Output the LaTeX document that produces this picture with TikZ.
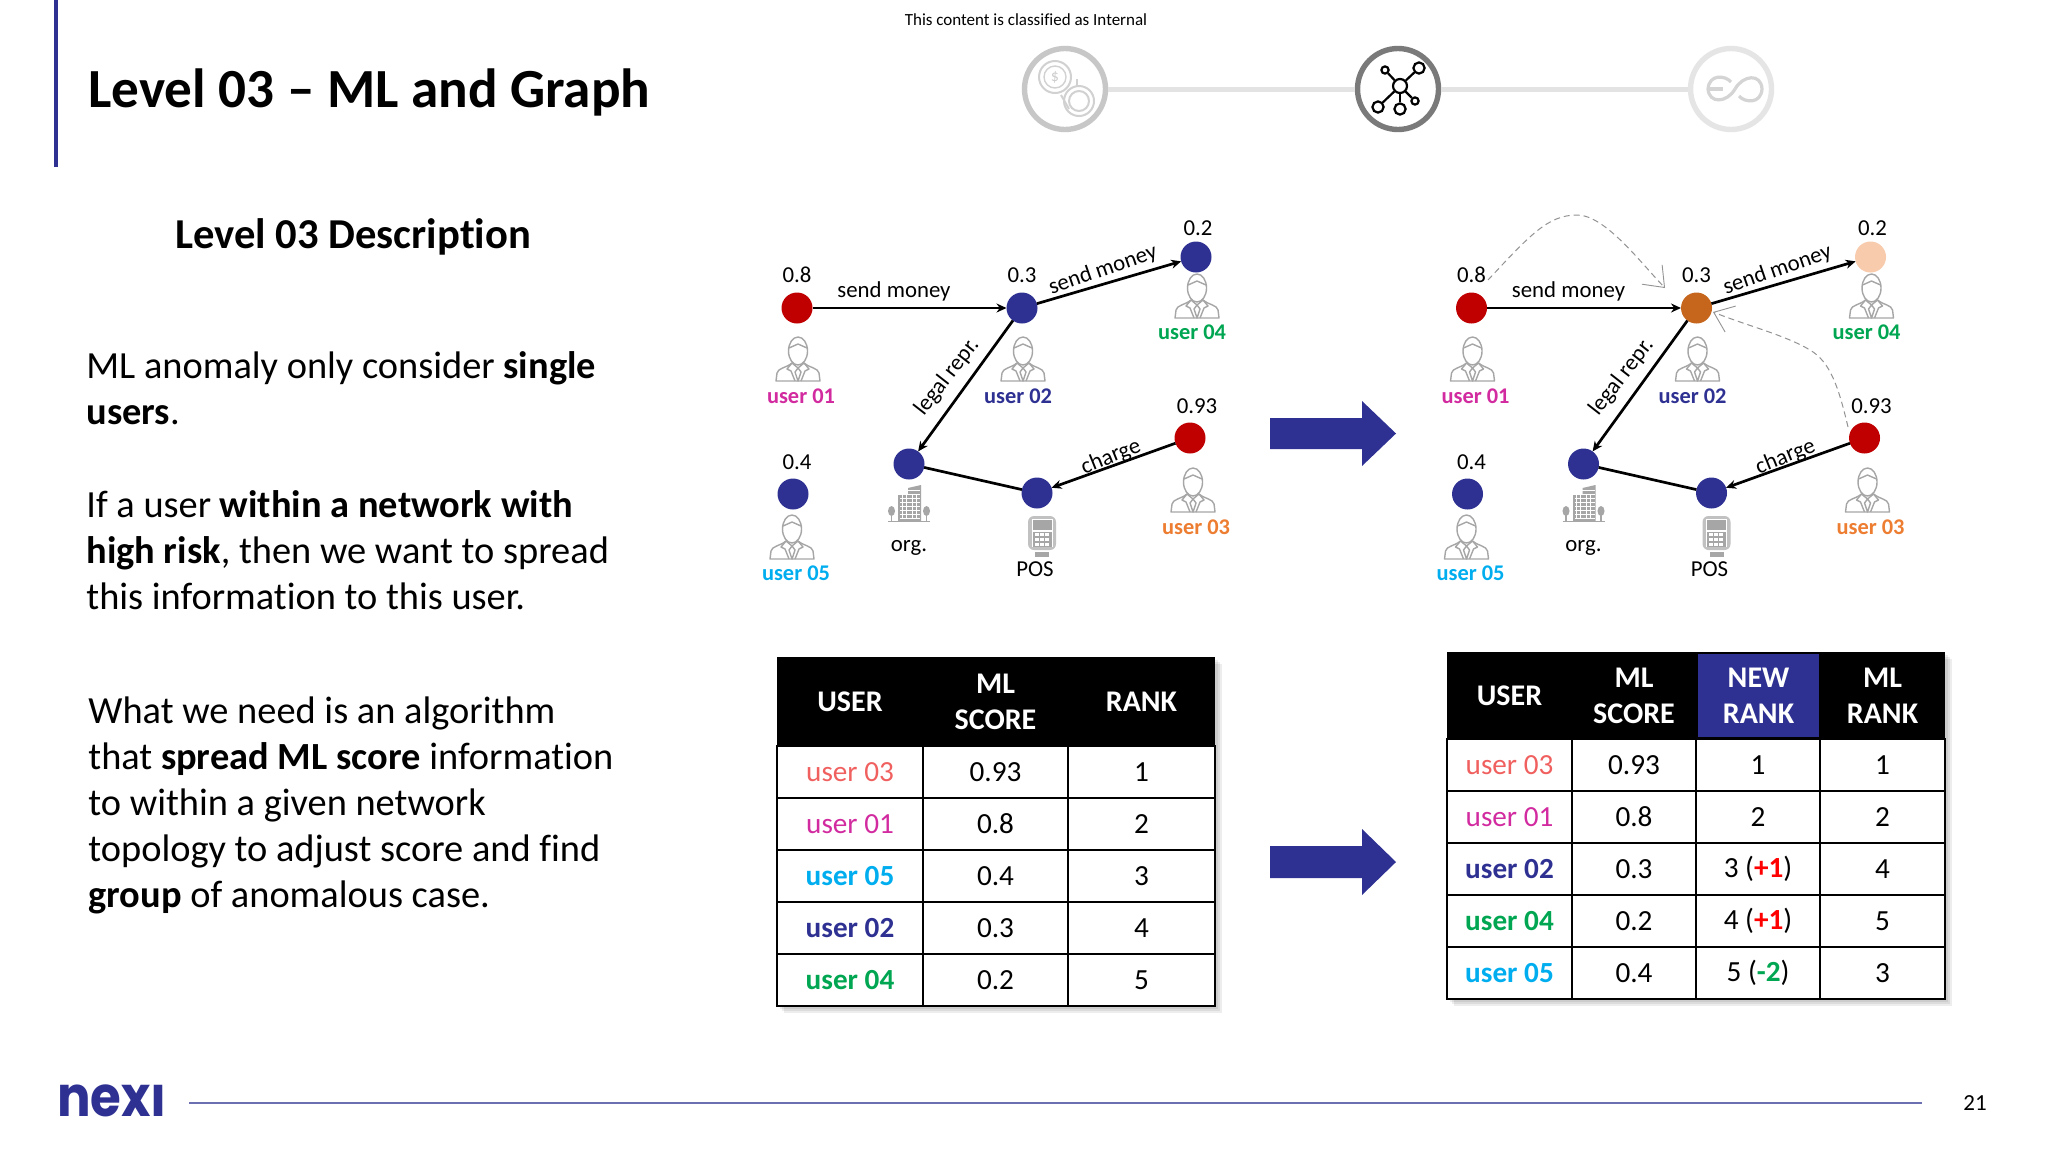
\documentclass[tikz,border=0pt]{standalone}
\usepackage{fontspec}
\setmainfont{Carlito}[Ligatures=NoCommon]
\newfontfamily\logofont{Poppins}
\usetikzlibrary{arrows.meta}
\definecolor{navy}{HTML}{2E3192}
\definecolor{nodered}{HTML}{C00000}
\definecolor{nodeorange}{HTML}{C5661C}
\definecolor{peach}{HTML}{F8CBAD}
\definecolor{umag}{HTML}{D22BA0}
\definecolor{ugreen}{HTML}{00A651}
\definecolor{ucyan}{HTML}{00AEEF}
\definecolor{uorange}{HTML}{ED7D31}
\definecolor{ucoral}{HTML}{F0605F}
\definecolor{icongray}{HTML}{A6A6A6}
\definecolor{plusred}{HTML}{FF0000}
\newcommand\fs[1]{\fontsize{#1}{#1}\selectfont}
\tikzset{
  x=0.5pt,y=-0.5pt,
  gnode/.style={circle,minimum size=15.5pt,inner sep=0pt,outer sep=0pt},
  gedge/.style={line width=1.35pt,-{Stealth[length=5pt,width=4.5pt]},black},
  gplain/.style={line width=1.35pt,black},
  glabel/.style={font=\fs{11.4},inner sep=0pt},
  ulabel/.style={font=\fs{11.2}\bfseries,inner sep=0pt},
  icon/.style={draw=icongray,line width=0.7pt,line join=round},
  dashlink/.style={draw=gray!85,line width=0.5pt,dash pattern=on 3pt off 2pt,-{Straight Barb[length=9pt,width=14pt,line width=0.45pt]}},
  bodyline/.style={anchor=base west,font=\fs{19.2},inner sep=0pt},
  hcell/.style={fill=black,text=white,font=\fontsize{15}{18}\selectfont\bfseries,align=center,inner sep=0pt},
  hcellblue/.style={fill=navy,text=white,font=\fontsize{15}{18}\selectfont\bfseries,align=center,inner sep=0pt},
  bcell/.style={draw=black,line width=0.9pt,fill=white,font=\fs{14.6},inner sep=0pt},
  tshadow/.style={fill=black,opacity=0.07},
  bigarrow/.style={fill=navy},
  stage/.style={circle,fill=white,minimum size=40.5pt,inner sep=0pt,line width=2.7pt},
  person/.pic={
    \draw[icon] (0,-8) ellipse (9.5 and 14);
    \draw[icon] (-9,-11) .. controls (-6,-13) and (-3,-13) .. (0,-15) .. controls (3,-13) and (6,-13) .. (9,-11);
    \draw[icon] (-22,22) -- (-21,14) .. controls (-20,9) and (-12,9) .. (-6,4) -- (0,9) -- (6,4) .. controls (12,9) and (20,9) .. (21,14) -- (22,22) -- cycle;
    \draw[icon] (-6,4) -- (-11,10) -- (-7,12) -- (-3,22);
    \draw[icon] (6,4) -- (11,10) -- (7,12) -- (3,22);
    \draw[icon] (0,9) -- (-3,13) -- (0,22) -- (3,13) -- cycle;
  },
  building/.pic={
    \fill[icongray] (-11,-8) rectangle (1,18);
    \fill[icongray] (-1,-15) -- (12,-18) -- (12,18) -- (-1,18) -- cycle;
    \foreach \yy in {-13,-9,...,15} {\draw[white,line width=0.35pt] (-9,\yy) -- (11,\yy);}
    \foreach \xx in {-7,-3,3,7} {\draw[white,line width=0.35pt] (\xx,-8) -- (\xx,16);}
    \fill[icongray] (-17.5,8) ellipse (3.5 and 5);
    \fill[icongray] (17.5,8) ellipse (3.5 and 5);
    \draw[icon] (-17.5,10) -- (-17.5,18);
    \draw[icon] (17.5,10) -- (17.5,18);
    \draw[icon] (-21,18.5) -- (21,18.5);
  },
  posterm/.pic={
    \fill[icongray!70,rounded corners=3pt] (-14,-17) rectangle (14,17);
    \fill[white] (-10.5,-14) rectangle (10.5,14);
    \fill[icongray] (-9.5,-13) rectangle (9.5,-3);
    \fill[icongray] (-9.5,-1) rectangle (9.5,14);
    \foreach \xx in {-7.5,-2.5,2.5} {\foreach \yy in {0,5,10} {\fill[white] (\xx,\yy) rectangle ++(4,3.4);}}
    \fill[icongray] (-7,19) rectangle (7,24);
  }
}
% one network, #1 prefix, #2 x shift in px, #3 colour of user 02, #4 colour of user 04
\newcommand\netw[4]{%
\begin{scope}[xshift=#2*0.5pt]
  \node[gnode,fill=nodered] (#1a) at (797,308) {};
  \node[gnode,fill=#3] (#1b) at (1022,308) {};
  \node[gnode,fill=#4] (#1d) at (1196,257) {};
  \node[gnode,fill=navy] (#1o) at (909,464) {};
  \node[gnode,fill=navy] (#1p) at (1037,493) {};
  \node[gnode,fill=nodered] (#1c) at (1190,438) {};
  \node[gnode,fill=navy] (#1e) at (793,494) {};
  \draw[gedge] (#1a) -- (#1b);
  \draw[gedge] (#1b) -- (#1d);
  \draw[gedge] (#1b) -- (#1o);
  \draw[gplain] (#1o) -- (#1p);
  \draw[gedge] (#1c) -- (#1p);
  \node[glabel] (#1sa) at (797,275) {0.8};
  \node[glabel] (#1sb) at (1022,275) {0.3};
  \node[glabel] (#1sd) at (1198,228) {0.2};
  \node[glabel] (#1sc) at (1197,406) {0.93};
  \node[glabel] (#1se) at (797,462) {0.4};
  \node[glabel] (#1ea) at (894,291) {send money};
  \node[glabel,rotate=19] (#1eb) at (1103,270) {send money};
  \node[glabel,rotate=52] (#1ec) at (947,377) {legal repr.};
  \node[glabel,rotate=22] (#1ed) at (1111,457) {charge};
  \pic at (798,359) {person};
  \pic at (1023,359) {person};
  \pic at (1197,296) {person};
  \pic at (1193,490) {person};
  \pic at (792,537) {person};
  \pic at (909,503) {building};
  \pic at (1042,533) {posterm};
  \node[ulabel,text=umag] (#1ua) at (801,396) {user 01};
  \node[ulabel,text=navy] (#1ub) at (1018,396) {user 02};
  \node[ulabel,text=ugreen] (#1ud) at (1192,332) {user 04};
  \node[ulabel,text=uorange] (#1uc) at (1196,527) {user 03};
  \node[ulabel,text=ucyan] (#1ue) at (796,573) {user 05};
  \node[glabel] (#1lo) at (909,548) {org.};
  \node[glabel] (#1lp) at (1035,569) {POS};
\end{scope}}
% table cell: name, x1, x2, y1, y2, style, text
\newcommand\tcell[7]{%
  \pgfmathsetmacro\cellx{(#2+#3)/2}%
  \pgfmathsetmacro\celly{(#4+#5)/2}%
  \pgfmathsetmacro\cellw{(#3-#2)*0.5}%
  \pgfmathsetmacro\cellh{(#5-#4)*0.5}%
  \node[#6,minimum width=\cellw pt,minimum height=\cellh pt] (#1) at (\cellx,\celly) {#7};}
\newcommand\rowL[6]{%
  \tcell{l#1u}{777}{923}{#2}{#3}{bcell}{#4}
  \tcell{l#1s}{923}{1068}{#2}{#3}{bcell}{#5}
  \tcell{l#1r}{1068}{1215}{#2}{#3}{bcell}{#6}}
\newcommand\rowR[7]{%
  \tcell{r#1u}{1447}{1572}{#2}{#3}{bcell}{#4}
  \tcell{r#1s}{1572}{1696}{#2}{#3}{bcell}{#5}
  \tcell{r#1n}{1696}{1820}{#2}{#3}{bcell}{#6}
  \tcell{r#1m}{1820}{1945}{#2}{#3}{bcell}{#7}}
\newcommand\plusone{(\textcolor{plusred}{\textbf{+1}})}
\begin{document}
\begin{tikzpicture}
\useasboundingbox (0,0) rectangle (2048,1152);
\fill[white] (0,0) rectangle (2048,1152);
% header
\fill[navy] (54,0) rectangle (58,167);
\node[anchor=base west,font=\fs{27.6}\bfseries,inner sep=0pt] (title) at (88,107) {Level 03 – ML and Graph};
\node[font=\fs{8.5},inner sep=0pt] (classif) at (1026,20) {This content is classified as Internal};
% stages
\node[stage,draw=black!22] (st1) at (1065,89) {};
\node[stage,draw=black!52] (st2) at (1398,89) {};
\node[stage,draw=black!10] (st3) at (1731,89) {};
\draw[line width=2.5pt,black!11] (st1) -- (st2);
\draw[line width=2.5pt,black!11] (st2) -- (st3);
\begin{scope}[shift={(1065,89)}]
  \draw[black!18,line width=1pt] (-10,-12) circle (16);
  \draw[black!18,line width=0.7pt] (-10,-12) circle (11);
  \node[text=black!20,font=\fs{8},inner sep=0pt] (dollar) at (-10,-12) {\$};
  \draw[black!18,line width=1pt] (14,12) circle (15);
  \draw[black!18,line width=1pt] (14,12) circle (10);
  \draw[black!18,line width=1pt] (-4,6) -- (4,20);
  \draw[black!18,line width=1pt] (12,-3) -- (12,-10);
\end{scope}
\begin{scope}[shift={(1398,89)}]
  \node[circle,draw=black,line width=1.1pt,minimum size=7pt,inner sep=0pt] (hub) at (2,-3) {};
  \node[circle,draw=black,line width=1.1pt,minimum size=5.6pt,inner sep=0pt] (n1) at (21,-21) {};
  \node[circle,draw=black,line width=1.1pt,minimum size=3.6pt,inner sep=0pt] (n2) at (-13,-19) {};
  \node[circle,draw=black,line width=1.1pt,minimum size=5.6pt,inner sep=0pt] (n3) at (-20,18) {};
  \node[circle,draw=black,line width=1.1pt,minimum size=5.6pt,inner sep=0pt] (n4) at (2,20) {};
  \node[circle,draw=black,line width=1.1pt,minimum size=3.6pt,inner sep=0pt] (n5) at (17,12) {};
  \foreach \nn in {n1,n2,n3,n4,n5} {\draw[black,line width=1.1pt] (hub) -- (\nn);}
\end{scope}
\begin{scope}[shift={(1735,89)}]
  \draw[black!17,line width=1.6pt] (0,0) .. controls (8,-14) and (26,-16) .. (27,0) .. controls (26,15) and (10,14) .. (4,7);
  \draw[black!17,line width=1.6pt] (0,0) .. controls (-8,14) and (-26,15) .. (-27,0) .. controls (-26,-15) and (-10,-14) .. (-4,-7);
  \draw[black!17,line width=1.6pt] (-27,0) -- (-12,0);
\end{scope}
% left text
\node[anchor=base west,font=\fs{21.3}\bfseries,inner sep=0pt] (desc) at (175,248) {Level 03 Description};
\node[bodyline] (p1a) at (86,378) {ML anomaly only consider \textbf{single}};
\node[bodyline] (p1b) at (86,424) {\textbf{users}.};
\node[bodyline] (p2a) at (86,517) {If a user \textbf{within a network with}};
\node[bodyline] (p2b) at (86,563) {\textbf{high risk}, then we want to spread};
\node[bodyline] (p2c) at (86,609) {this information to this user.};
\node[bodyline] (p3a) at (88,723) {What we need is an algorithm};
\node[bodyline] (p3b) at (88,769) {that \textbf{spread ML score} information};
\node[bodyline] (p3c) at (88,815) {to within a given network};
\node[bodyline] (p3d) at (88,861) {topology to adjust score and find};
\node[bodyline] (p3e) at (88,907) {\textbf{group} of anomalous case.};
% networks
\netw{L}{0}{navy}{navy}
\netw{R}{674.5}{nodeorange}{peach}
\coordinate (d1s) at (1488,280);
\coordinate (d1e) at (1665,288);
\coordinate (d2s) at (1848,427);
\coordinate (d2e) at (1713,312);
\draw[dashlink] (d1s) .. controls (1530,235) and (1548,215) .. (1577,215) .. controls (1605,215) and (1640,262) .. (d1e);
\draw[dashlink] (d2s) .. controls (1838,385) and (1830,362) .. (1810,350) .. controls (1785,335) and (1745,325) .. (d2e);
% big arrows
\fill[bigarrow] (1270,418) -- (1362,418) -- (1362,401) -- (1396,433.5) -- (1362,466) -- (1362,449) -- (1270,449) -- cycle;
\fill[bigarrow] (1270,846) -- (1362,846) -- (1362,829) -- (1396,862) -- (1362,895) -- (1362,878) -- (1270,878) -- cycle;
% left table
\foreach \oo in {3,5,7} {\fill[tshadow] (777+\oo,657+\oo) rectangle (1215+\oo,1006+\oo);}
\tcell{lhu}{777}{923}{657}{746}{hcell}{USER}
\tcell{lhs}{923}{1068}{657}{746}{hcell}{ML\\SCORE}
\tcell{lhr}{1068}{1215}{657}{746}{hcell}{RANK}
\rowL{a}{746}{798}{\textcolor{ucoral}{user 03}}{0.93}{1}
\rowL{b}{798}{850}{\textcolor{umag}{user 01}}{0.8}{2}
\rowL{c}{850}{902}{\textcolor{ucyan}{\textbf{user 05}}}{0.4}{3}
\rowL{d}{902}{954}{\textcolor{navy}{\textbf{user 02}}}{0.3}{4}
\rowL{e}{954}{1006}{\textcolor{ugreen}{\textbf{user 04}}}{0.2}{5}
% right table
\foreach \oo in {3,5,7} {\fill[tshadow] (1447+\oo,652+\oo) rectangle (1945+\oo,999+\oo);}
\tcell{rhu}{1447}{1572}{652}{739}{hcell}{USER}
\tcell{rhs}{1572}{1696}{652}{739}{hcell}{ML\\SCORE}
\tcell{rhn}{1696}{1820}{652}{739}{hcell}{}
\tcell{rhm}{1820}{1945}{652}{739}{hcell}{ML\\RANK}
\tcell{rhb}{1698}{1819}{654}{737}{hcellblue}{NEW\\RANK}
\rowR{a}{739}{791}{\textcolor{ucoral}{user 03}}{0.93}{1}{1}
\rowR{b}{791}{843}{\textcolor{umag}{user 01}}{0.8}{2}{2}
\rowR{c}{843}{895}{\textcolor{navy}{\textbf{user 02}}}{0.3}{3 \plusone}{4}
\rowR{d}{895}{947}{\textcolor{ugreen}{\textbf{user 04}}}{0.2}{4 \plusone}{5}
\rowR{e}{947}{999}{\textcolor{ucyan}{\textbf{user 05}}}{0.4}{5 (\textcolor{ugreen}{\textbf{-2}})}{3}
% footer
\node[anchor=base west,inner sep=0pt,text=navy,xscale=0.89] (logo) at (57,1116) {\logofont\fs{28}\bfseries nexı};
\coordinate (fa) at (189,1103);
\coordinate (fb) at (1922,1103);
\draw[navy!70,line width=0.6pt] (fa) -- (fb);
\node[font=\fs{11.5},inner sep=0pt] (pageno) at (1975,1103) {21};
\end{tikzpicture}
\end{document}
